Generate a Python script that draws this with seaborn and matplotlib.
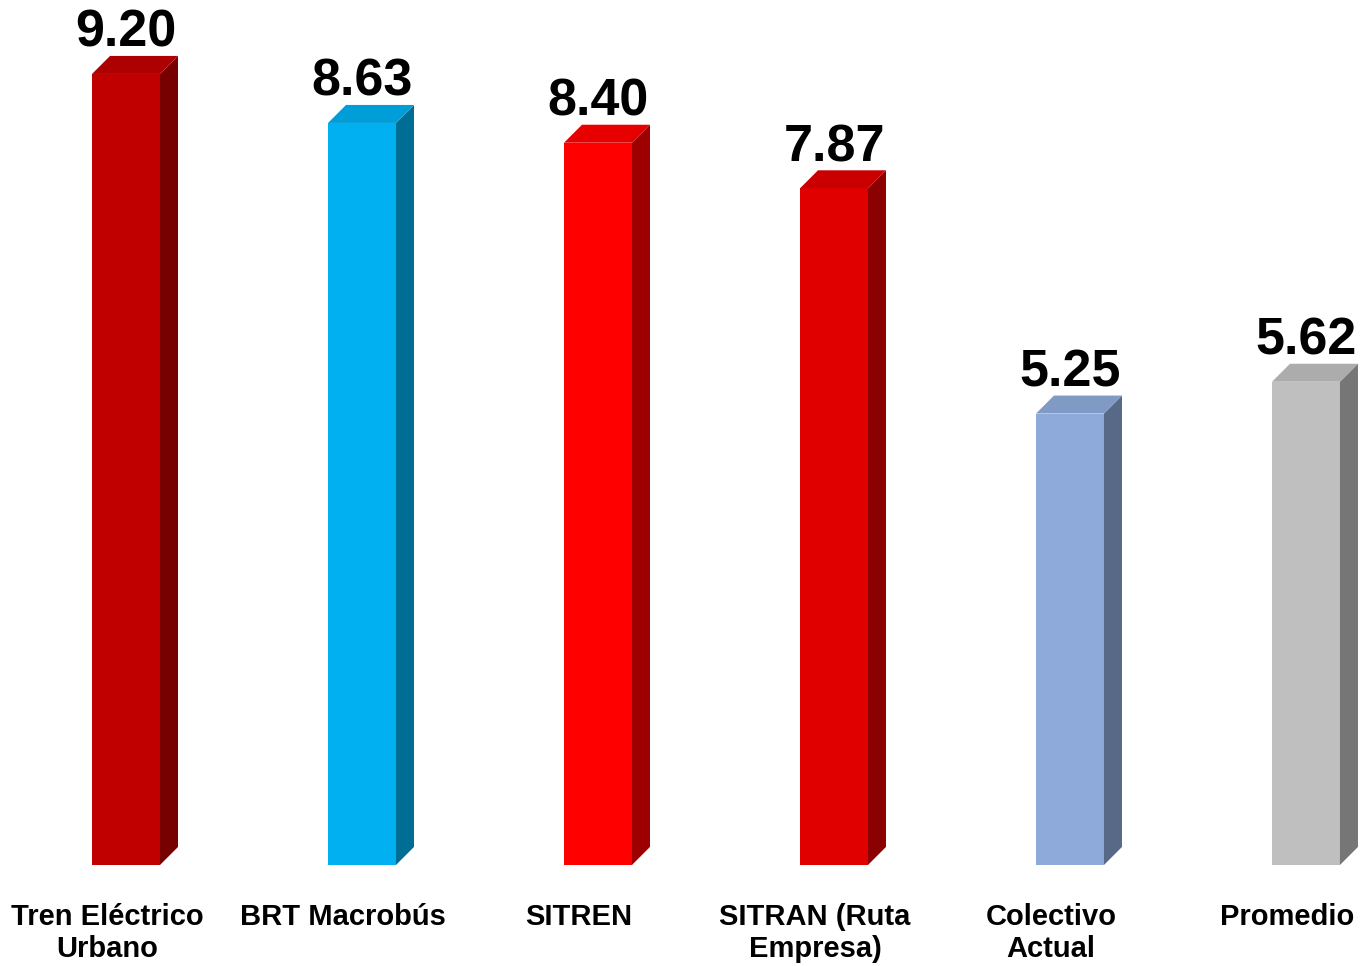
"""
Calificación promedio por sistema de transporte - barras con efecto 3D
"""
import numpy as np
import pandas as pd
import matplotlib
matplotlib.use("Agg")
import matplotlib.pyplot as plt
from matplotlib.patches import Polygon
from matplotlib.colors import to_rgb
import seaborn as sns

# Data
categories = ["Tren Eléctrico\nUrbano", "BRT Macrobús", "SITREN",
              "SITRAN (Ruta\nEmpresa)", "Colectivo\nActual", "Promedio"]
values = [9.20, 8.63, 8.40, 7.87, 5.25, 5.62]
bar_colors = ["#C00000", "#00B0F0", "#FF0000", "#E00000", "#8EAADB", "#BFBFBF"]

df = pd.DataFrame({"sistema": categories, "calificacion": values})

sns.set_style("white")
plt.rcParams["font.family"] = ["Liberation Sans", "DejaVu Sans"]
plt.rcParams["font.weight"] = "bold"

fig = plt.figure(figsize=(13.69, 9.66), dpi=100)
ax = fig.add_axes([0, 0.1046, 1, 0.8954])

sns.barplot(data=df, x="sistema", y="calificacion", hue="sistema",
            palette=bar_colors, width=0.288, legend=False, ax=ax,
            saturation=1, linewidth=0)

ax.set_xlim(-0.534, 5.267)
ax.set_ylim(0, 10.06)
ax.axis("off")


def shade(color, f):
    r, g, b = to_rgb(color)
    return (min(r * f, 1), min(g * f, 1), min(b * f, 1))


# depth of the fake 3D box, in pixels
depth_px = 18
fig.canvas.draw()
p0 = ax.transData.transform((0, 0))
p1 = ax.transData.transform((1, 1))
dx = depth_px / (p1[0] - p0[0])
dy = depth_px / (p1[1] - p0[1])

for patch, col in zip(ax.patches[:len(values)], bar_colors):
    x0 = patch.get_x()
    w = patch.get_width()
    h = patch.get_height()
    x1 = x0 + w
    side = Polygon([(x1, 0), (x1 + dx, dy), (x1 + dx, h + dy), (x1, h)],
                   closed=True, facecolor=shade(col, 0.62), edgecolor="none")
    top = Polygon([(x0, h), (x0 + dx, h + dy), (x1 + dx, h + dy), (x1, h)],
                  closed=True, facecolor=shade(col, 0.9), edgecolor="none")
    ax.add_patch(side)
    ax.add_patch(top)

# value labels
for i, v in enumerate(values):
    ax.annotate(f"{v:.2f}", xy=(i, v), xytext=(0, 19.5),
                textcoords="offset points", ha="center", va="baseline",
                fontsize=37.5, fontweight="bold", color="black")

# category labels
trans = matplotlib.transforms.blended_transform_factory(ax.transData, ax.transAxes)
for i, c in enumerate(categories):
    ax.text(i - 0.08, -0.044, c, transform=trans, ha="center", va="top",
            fontsize=21, fontweight="bold", linespacing=1.2, color="black",
            clip_on=False)

plt.savefig("out.png", dpi=100)
plt.close()
